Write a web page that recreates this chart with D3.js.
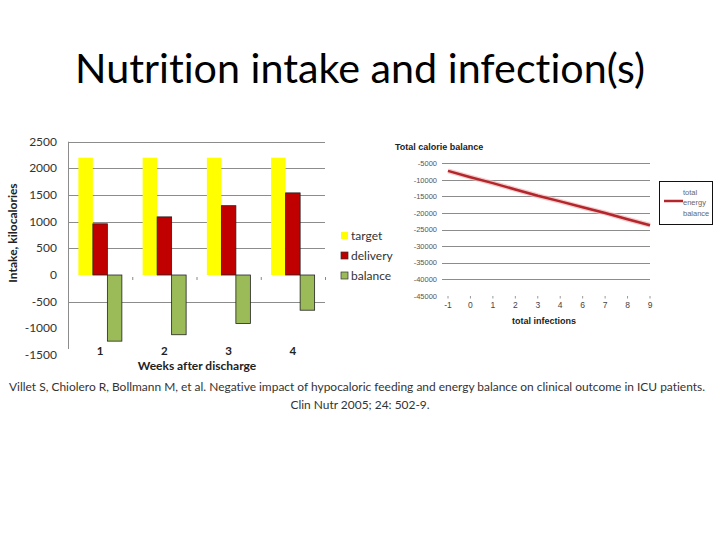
<!DOCTYPE html>
<html><head><meta charset="utf-8">
<script src="https://cdn.jsdelivr.net/npm/d3@7"></script>
<style>body{margin:0;background:#fff;} svg{display:block;} text{font-variant-ligatures:none;}</style>
</head><body>
<svg id="c" width="720" height="540"></svg>
<script>
// ---- data ----
const weeks = ["1","2","3","4"];
const seriesNames = ["target","delivery","balance"];
const target = [2200, 2200, 2200, 2200];
const delivery = [960, 1090, 1300, 1540];
const balance = [-1240, -1120, -910, -660];
const leftTicks = [2500, 2000, 1500, 1000, 500, 0, -500, -1000, -1500];
const leftTickLabels = ["2500","2000","1500","1000","500","0","-500","-1000","-1500"];

const infections = ["-1","0","1","2","3","4","6","7","8","9"];
const totalBalance = [-7300, -9200, -11000, -12900, -14800, -16500, -18300, -20000, -21900, -23700];
const rightTicks = [-5000,-10000,-15000,-20000,-25000,-30000,-35000,-40000,-45000];

const svg = d3.select("#c");
const colors = {target:"#ffff00", delivery:"#c00000", balance:"#9bbb59"};

// ---- title ----
function fitText(sel, w) {
  const cur = sel.node().getComputedTextLength();
  const fs = parseFloat(sel.attr("font-size"));
  sel.attr("font-size", fs * w / cur);
}
const title = svg.append("text").attr("x", 360).attr("y", 83).attr("text-anchor","middle")
  .attr("font-family","Lato, 'Open Sans', sans-serif").attr("font-size", 36).attr("fill","#000")
  .text("Nutrition intake and infection(s)");
fitText(title, 570);

// ---- left chart ----
const L = {x0: 68, x1: 325};
const yL = d3.scaleLinear().domain([-1500, 2500]).range([355, 141.7]);
const xL = d3.scaleBand().domain(weeks).range([L.x0, L.x1]);
const xS = d3.scaleBand().domain(seriesNames).range([0, 43.5]);
const pad = (xL.bandwidth() - 43.5) / 2;
const gL = svg.append("g");

// gridlines
gL.selectAll("line.grid").data(leftTicks.filter(d => d !== 0 && d !== -1000 && d !== -1500)).join("line")
  .attr("x1", L.x0).attr("x2", L.x1).attr("y1", d => Math.round(yL(d)) + 0.5).attr("y2", d => Math.round(yL(d)) + 0.5)
  .attr("stroke", "#8c8c8c").attr("stroke-width", 1);
// y axis line
gL.append("line").attr("x1", L.x0 + 0.5).attr("x2", L.x0 + 0.5).attr("y1", yL(2500)).attr("y2", yL(-1500) - 6)
  .attr("stroke", "#8c8c8c");
// small category-boundary ticks at zero
gL.selectAll("line.ct").data(weeks.slice(1).concat(["end"])).join("line")
  .attr("x1", (d,i) => L.x0 + (i+1) * xL.step() + 0.5).attr("x2", (d,i) => L.x0 + (i+1) * xL.step() + 0.5)
  .attr("y1", yL(0) + 2).attr("y2", yL(0) + 5).attr("stroke", "#888");

// y tick labels
gL.selectAll("text.yt").data(leftTicks).join("text")
  .attr("x", 57).attr("y", d => yL(d) + 4).attr("text-anchor","end")
  .attr("font-family","Lato, sans-serif").attr("font-size", 12).attr("fill","#333")
  .text((d,i) => leftTickLabels[i]);

// bars
const barData = [];
weeks.forEach((w, i) => {
  barData.push({w, s:"target", v: target[i]});
  barData.push({w, s:"delivery", v: delivery[i]});
  barData.push({w, s:"balance", v: balance[i]});
});
gL.selectAll("rect.bar").data(barData).join("rect")
  .attr("x", d => xL(d.w) + pad + xS(d.s))
  .attr("width", xS.bandwidth())
  .attr("y", d => yL(Math.max(0, d.v)))
  .attr("height", d => Math.abs(yL(d.v) - yL(0)))
  .attr("fill", d => colors[d.s])
  .attr("stroke", d => d.s === "target" ? "none" : "#222").attr("stroke-width", 0.8);

// category labels
gL.selectAll("text.xt").data(weeks).join("text")
  .attr("x", d => xL(d) + xL.bandwidth()/2).attr("y", 355)
  .attr("text-anchor","middle").attr("font-family","Lato, sans-serif").attr("font-weight","bold")
  .attr("font-size", 11.5).attr("fill","#222").text(d => d);

// axis titles
gL.append("text").attr("x", 197).attr("y", 370).attr("text-anchor","middle")
  .attr("font-family","Lato, sans-serif").attr("font-weight","bold").attr("font-size", 12).attr("fill","#222")
  .text("Weeks after discharge");
gL.append("text").attr("transform","translate(17,233) rotate(-90)").attr("text-anchor","middle")
  .attr("font-family","Lato, sans-serif").attr("font-weight","bold").attr("font-size", 12).attr("fill","#222")
  .text("Intake, kilocalories");

// legend
const leg = gL.selectAll("g.leg").data(seriesNames).join("g")
  .attr("transform", (d,i) => `translate(341,${232 + i*20})`);
leg.append("rect").attr("width", 7).attr("height", 7)
  .attr("fill", d => colors[d]).attr("stroke", d => d === "target" ? "none" : "#333").attr("stroke-width", 0.7);
leg.append("text").attr("x", 10).attr("y", 8).attr("font-family","Lato, sans-serif")
  .attr("font-size", 12).attr("fill","#333").text(d => d);

// ---- right chart ----
const R = {x0: 442, x1: 650};
const yR = d3.scaleLinear().domain([-45000, -5000]).range([295.7, 163.3]);
const xR = d3.scalePoint().domain(infections).range([448, 650]);
const gR = svg.append("g");

gR.append("text").attr("x", 395).attr("y", 150).attr("font-family","'Liberation Sans', Arial, sans-serif")
  .attr("font-weight","bold").attr("font-size", 9).attr("fill","#222").text("Total calorie balance");

gR.selectAll("line.grid").data(rightTicks.filter(d => d !== -45000)).join("line")
  .attr("x1", R.x0).attr("x2", R.x1).attr("y1", d => Math.round(yR(d)) + 0.5).attr("y2", d => Math.round(yR(d)) + 0.5)
  .attr("stroke", "#8c8c8c");
gR.selectAll("text.yt").data(rightTicks).join("text")
  .attr("x", 437).attr("y", d => yR(d) + 2.8).attr("text-anchor","end")
  .attr("font-family","'Liberation Sans', Arial, sans-serif").attr("font-size", 7.5).attr("fill","#555")
  .text(d => d);
gR.selectAll("line.xtk").data(infections).join("line")
  .attr("x1", d => xR(d)).attr("x2", d => xR(d)).attr("y1", 296).attr("y2", 298.5)
  .attr("stroke", "#999");
gR.selectAll("text.xt").data(infections).join("text")
  .attr("x", d => xR(d)).attr("y", 307.5).attr("text-anchor","middle")
  .attr("font-family","'Liberation Sans', Arial, sans-serif").attr("font-size", 8.5).attr("fill","#444")
  .text(d => d);
gR.append("text").attr("x", 544).attr("y", 324).attr("text-anchor","middle")
  .attr("font-family","'Liberation Sans', Arial, sans-serif").attr("font-weight","bold").attr("font-size", 9)
  .attr("fill","#222").text("total infections");

const line = d3.line().x((d,i) => xR(infections[i])).y(d => yR(d));
gR.append("path").attr("d", line(totalBalance)).attr("fill","none")
  .attr("stroke","#f2b5b5").attr("stroke-width", 5).attr("opacity", 0.7);
gR.append("path").attr("d", line(totalBalance)).attr("fill","none")
  .attr("stroke","#b3262b").attr("stroke-width", 2.5);

// right legend
gR.append("rect").attr("x", 659.5).attr("y", 181.5).attr("width", 53).attr("height", 43)
  .attr("fill","#fff").attr("stroke","#111").attr("stroke-width", 1);
gR.append("line").attr("x1", 664).attr("x2", 683).attr("y1", 201).attr("y2", 201)
  .attr("stroke","#b3262b").attr("stroke-width", 2.5);
gR.selectAll("text.lg").data(["total","energy","balance"]).join("text")
  .attr("x", 683).attr("y", (d,i) => 194.5 + i*10.5)
  .attr("font-family","'Liberation Sans', Arial, sans-serif").attr("font-size", 7.5).attr("fill","#666")
  .text(d => d);

// ---- citation ----
const cit1 = svg.append("text").attr("x", 357).attr("y", 391).attr("text-anchor","middle")
  .attr("font-family","Lato, sans-serif").attr("font-size", 12.5).attr("fill","#333")
  .text("Villet S, Chiolero R, Bollmann M, et al. Negative impact of hypocaloric feeding and energy balance on clinical outcome in ICU patients.");
fitText(cit1, 697);
svg.append("text").attr("x", 360).attr("y", 409).attr("text-anchor","middle")
  .attr("font-family","Lato, sans-serif").attr("font-size", cit1.attr("font-size")).attr("fill","#333")
  .text("Clin Nutr 2005; 24: 502-9.");
</script>
</body></html>
